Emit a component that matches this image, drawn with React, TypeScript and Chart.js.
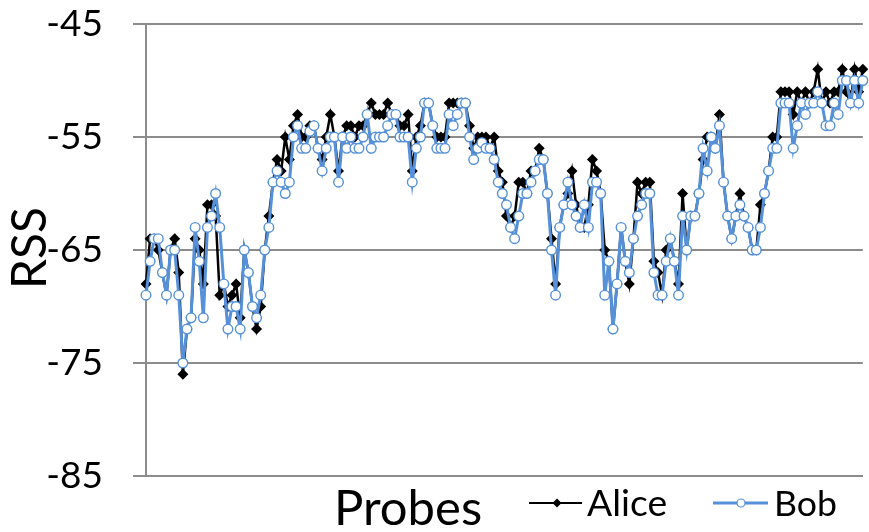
import React, { useEffect, useRef } from 'react';
import { Chart, registerables } from 'chart.js';

Chart.register(...registerables);

const alice: number[] = [
  -68, -64, -64, -65, -67, -69, -65, -64, -67, -76,
  -72, -71, -64, -65, -68, -61, -61, -62, -69, -68,
  -70, -69, -68, -71, -65, -67, -70, -72, -70, -65,
  -62, -59, -57, -58, -55, -57, -54, -53, -55, -55,
  -54, -54, -56, -57, -55, -53, -55, -58, -55, -54,
  -54, -55, -54, -54, -53, -52, -53, -53, -53, -52,
  -53, -53, -54, -54, -53, -58, -55, -54, -52, -52,
  -54, -55, -55, -55, -52, -52, -52, -52, -52, -54,
  -56, -55, -55, -55, -56, -55, -58, -59, -62, -63,
  -62, -59, -59, -60, -58, -58, -56, -57, -60, -64,
  -68, -63, -61, -60, -58, -61, -63, -63, -61, -57,
  -58, -60, -65, -66, -72, -68, -63, -66, -68, -64,
  -59, -60, -59, -59, -66, -67, -69, -65, -64, -66,
  -68, -60, -65, -62, -62, -60, -57, -55, -55, -56,
  -53, -59, -62, -64, -62, -60, -62, -63, -65, -65,
  -61, -60, -58, -55, -55, -51, -51, -51, -53, -51,
  -52, -51, -52, -51, -49, -52, -51, -52, -51, -51,
  -49, -51, -52, -49, -51, -49,
];

const bob: number[] = [
  -69, -66, -64, -64, -67, -69, -65, -65, -69, -75,
  -72, -71, -63, -66, -71, -63, -62, -60, -63, -68,
  -72, -70, -70, -72, -65, -67, -70, -71, -69, -65,
  -63, -59, -58, -59, -60, -59, -55, -54, -56, -56,
  -54.5, -54, -56, -58, -56, -55, -55, -59, -55, -56,
  -55, -56, -56, -55, -53, -56, -55, -55, -55, -54,
  -53, -53, -55, -55, -55, -59, -56, -55, -52, -52,
  -54, -56, -56, -56, -53, -54, -53, -52, -52, -55,
  -57, -56, -55.5, -56, -56, -57, -59, -60, -61, -63,
  -64, -62, -60, -60, -59, -58, -57, -57, -60, -65,
  -69, -63, -61, -59, -61, -62, -63, -61, -63, -59,
  -59, -60, -69, -66, -72, -68, -63, -66, -67, -64,
  -62, -61, -60, -60, -67, -69, -69, -66, -64, -66,
  -69, -62, -65, -62, -62, -60, -56, -58, -55, -56,
  -54, -59, -62, -64, -62, -61, -62, -63, -65, -65,
  -63, -60, -58, -56, -56, -52, -52, -52, -56, -54,
  -52, -53, -52, -52, -51, -52, -54, -54, -52, -53,
  -50, -50, -52, -50, -52, -50,
];

const probes: string[] = alice.map((_, i) => String(i + 1));
const yTicks: number[] = [-85, -75, -65, -55, -45];

const FONT = 'Lato, Calibri, Carlito, sans-serif';
const BLUE = '#5590D8';
const GRID = '#8c8c8c';

function fitFont(ctx: CanvasRenderingContext2D, text: string, targetW: number): string {
  ctx.font = `100px ${FONT}`;
  const w = ctx.measureText(text).width;
  const size = (100 * targetW) / w;
  return `${size.toFixed(1)}px ${FONT}`;
}

const textPlugin = {
  id: 'customText',
  afterDraw(chart: any) {
    const ctx: CanvasRenderingContext2D = chart.ctx;
    ctx.save();
    ctx.fillStyle = '#000';
    // Y title
    ctx.save();
    ctx.translate(31, 248);
    ctx.rotate(-Math.PI / 2);
    ctx.font = fitFont(ctx, 'RSS', 82);
    ctx.textAlign = 'center';
    ctx.textBaseline = 'middle';
    ctx.fillText('RSS', 0, 0);
    ctx.restore();

    // X title
    ctx.font = fitFont(ctx, 'Probes', 148);
    ctx.textAlign = 'left';
    ctx.textBaseline = 'alphabetic';
    ctx.fillText('Probes', 334, 525);

    // Legend: Alice
    const ly = 503;
    ctx.strokeStyle = '#000';
    ctx.lineWidth = 2;
    ctx.beginPath();
    ctx.moveTo(529, ly);
    ctx.lineTo(582, ly);
    ctx.stroke();
    ctx.fillStyle = '#000';
    ctx.beginPath();
    ctx.moveTo(557 - 4.5, ly);
    ctx.lineTo(557, ly - 4.5);
    ctx.lineTo(557 + 4.5, ly);
    ctx.lineTo(557, ly + 4.5);
    ctx.closePath();
    ctx.fill();
    ctx.font = fitFont(ctx, 'Alice', 80);
    ctx.fillText('Alice', 587, 516);

    // Legend: Bob
    ctx.strokeStyle = BLUE;
    ctx.lineWidth = 3;
    ctx.beginPath();
    ctx.moveTo(713, ly);
    ctx.lineTo(768, ly);
    ctx.stroke();
    ctx.fillStyle = '#fff';
    ctx.lineWidth = 1.2;
    ctx.beginPath();
    ctx.arc(741, ly, 4, 0, Math.PI * 2);
    ctx.fill();
    ctx.stroke();
    ctx.fillStyle = '#000';
    ctx.font = fitFont(ctx, 'Bob', 63);
    ctx.fillText('Bob', 774, 516);
    ctx.restore();
  },
};

export default function App() {
  const ref = useRef<HTMLCanvasElement | null>(null);

  useEffect(() => {
    document.body.style.margin = '0';
    const canvas = ref.current;
    if (!canvas) return;
    const chart = new Chart(canvas, {
      type: 'line',
      data: {
        labels: probes,
        datasets: [
          {
            label: 'Alice',
            data: alice,
            borderColor: '#000',
            backgroundColor: '#000',
            borderWidth: 2.5,
            pointStyle: 'rectRot',
            pointRadius: 5.5,
            pointBorderWidth: 0,
            pointBackgroundColor: '#000',
            tension: 0,
            order: 1,
          },
          {
            label: 'Bob',
            data: bob,
            borderColor: BLUE,
            backgroundColor: '#fff',
            borderWidth: 3,
            pointStyle: 'circle',
            pointRadius: 4.8,
            pointBorderWidth: 1.4,
            pointBorderColor: BLUE,
            pointBackgroundColor: '#fff',
            tension: 0,
            order: 0,
          },
        ],
      },
      options: {
        animation: false,
        responsive: false,
        devicePixelRatio: 1,
        layout: { padding: { top: 24, right: 0, left: 0, bottom: 0 } },
        plugins: {
          legend: { display: false },
          tooltip: { enabled: false },
        },
        scales: {
          x: {
            type: 'category',
            offset: false,
            ticks: { display: false },
            grid: { display: false, drawTicks: false },
            border: { display: true, color: GRID, width: 2 },
            afterFit: (s: any) => {
              s.height = 56;
              s.paddingLeft = 0;
              s.paddingRight = 0;
            },
          },
          y: {
            min: -85,
            max: -45,
            afterBuildTicks: (s: any) => {
              s.ticks = yTicks.map((v) => ({ value: v }));
            },
            ticks: {
              color: '#000',
              font: { family: FONT, size: 37 },
              padding: 30,
            },
            grid: {
              color: GRID,
              lineWidth: 2,
              drawTicks: true,
              tickLength: 13,
            },
            border: { display: true, color: GRID, width: 2 },
            afterFit: (s: any) => {
              s.width = 146;
              s.paddingTop = 0;
              s.paddingBottom = 0;
            },
          },
        },
      },
      plugins: [textPlugin],
    });
    return () => chart.destroy();
  }, []);

  return (
    <div style={{ width: 869, height: 532, position: 'absolute', left: 0, top: 0 }}>
      <canvas ref={ref} width={869} height={532} />
    </div>
  );
}
